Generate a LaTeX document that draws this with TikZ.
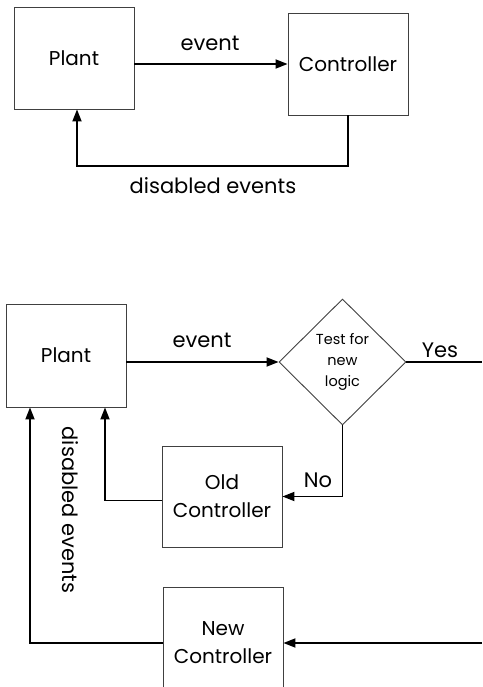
\documentclass[tikz,border=0pt]{standalone}
\usepackage{fontspec}
\setmainfont{Poppins}
\usetikzlibrary{shapes.geometric, arrows.meta, positioning, calc}
\tikzset{
    box/.style={draw=black!75, line width=0.9pt, fill=white, align=center, minimum width=120pt, inner sep=0pt, font=\fontsize{20pt}{28pt}\selectfont},
    decision/.style={diamond, draw=black!75, line width=0.9pt, align=center, minimum width=127pt, minimum height=126pt, inner sep=0pt, font=\fontsize{14.5pt}{21pt}\selectfont},
    arrow/.style={-{Triangle[length=12pt,width=9pt]}, line width=1.8pt, black},
    plain/.style={line width=1.8pt, black},
    lbl/.style={font=\fontsize{21pt}{24pt}\selectfont, inner sep=0pt}
}
\begin{document}
\begin{tikzpicture}[x=1pt, y=-1pt]
        \useasboundingbox (0,0) rectangle (482,687);
        \node [box, minimum height=102pt] (plant) at (74,58) {Plant};
        \node [box, minimum height=102pt] (ctrl) at (348,64) {Controller};
        \coordinate (back) at (77,166);
        \draw [arrow] (plant.east |- ctrl.west) -- (ctrl.west);
        \draw [arrow] (ctrl.south) |- (back) -- (back |- plant.south);
        \node [lbl] at (210,43) {event};
        \node [lbl] at (213,186) {disabled events};

        \node [box, minimum height=103pt] (plant2) at (66,355.5) {Plant};
        \node [decision] (test) at (342.5,362) {Test for\\new\\logic};
        \node [box, minimum height=101pt] (old) at (222,496.5) {Old\\Controller};
        \node [box, minimum height=112pt] (new) at (223,643) {New\\Controller};
        \coordinate (yes) at (482,362);
        \coordinate (input) at (482,643);
        \draw [arrow] (plant2.east |- test.west) -- (test.west);
        \draw [plain] (test.east) -- (yes);
        \draw [arrow] (test.south) |- (old.east);
        \draw [arrow] ([yshift=-4pt]old.west) -| ([xshift=39pt]plant2.south);
        \draw [arrow] (new.west) -| ([xshift=-36pt]plant2.south);
        \draw [arrow] (input) -- (new.east);
        \node [lbl] at (202,340) {event};
        \node [lbl] at (440,350) {Yes};
        \node [lbl] at (318,480) {No};
        \node [lbl, rotate=-90] at (70,510) {disabled events};
    \end{tikzpicture}
\end{document}
